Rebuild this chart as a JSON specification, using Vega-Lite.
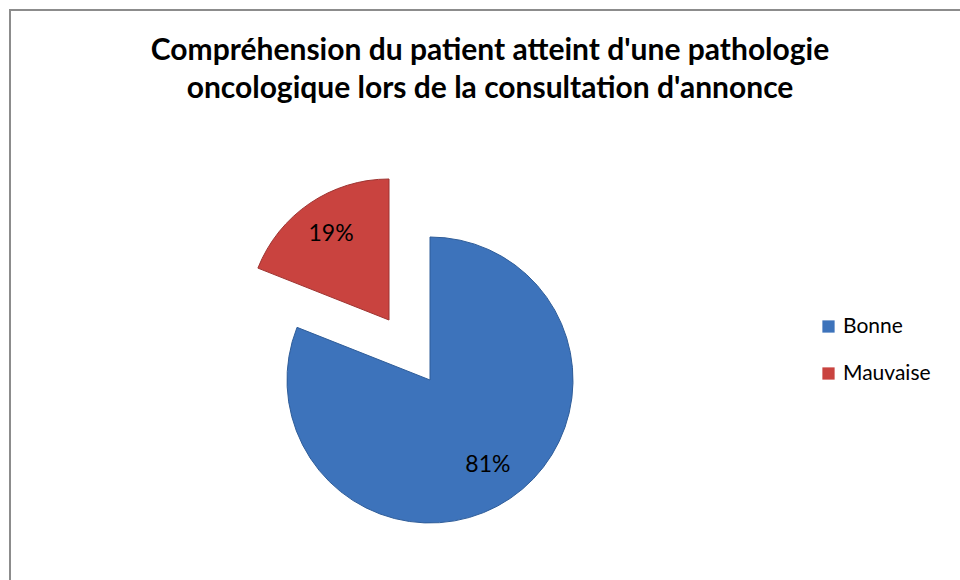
{
  "$schema": "https://vega.github.io/schema/vega-lite/v6.json",
  "width": 960,
  "height": 580,
  "autosize": "none",
  "padding": {"left": 10, "top": 10, "right": 0, "bottom": 0},
  "background": "white",
  "view": {"stroke": "#8c8c8c", "strokeWidth": 2, "fill": "white"},
  "title": {
    "text": ["Compréhension du patient atteint d'une pathologie", "oncologique  lors de la consultation d'annonce"],
    "font": "Lato",
    "fontSize": 30,
    "fontWeight": "bold",
    "color": "#000000",
    "anchor": "middle",
    "frame": "group",
    "baseline": "alphabetic",
    "lineHeight": 38,
    "offset": -118
  },
  "data": {
    "values": [
      {"category": "Bonne", "value": 81, "label": "81%"},
      {"category": "Mauvaise", "value": 19, "label": "19%"}
    ]
  },
  "transform": [
    {"stack": "value", "groupby": [], "sort": [{"field": "category", "order": "ascending"}], "as": ["v0", "v1"]}
  ],
  "layer": [
    {
      "transform": [{"filter": "datum.category == 'Bonne'"}],
      "mark": {"type": "arc", "outerRadius": 143, "xOffset": -60, "yOffset": 80, "stroke": "#2f5d99", "strokeWidth": 1},
      "encoding": {
        "theta": {"field": "v0", "type": "quantitative", "scale": {"domain": [0, 100]}},
        "theta2": {"field": "v1"},
        "color": {
          "field": "category",
          "type": "nominal",
          "scale": {"domain": ["Bonne", "Mauvaise"], "range": ["#3d73bb", "#c9433f"]},
          "legend": {
            "title": null,
            "orient": "none",
            "legendX": 808,
            "legendY": 306,
            "symbolType": "square",
            "symbolSize": 150,
            "symbolStrokeWidth": 0,
            "labelFont": "Lato",
            "labelFontSize": 21,
            "labelColor": "#000000",
            "labelOffset": 4,
            "rowPadding": 25
          }
        }
      }
    },
    {
      "transform": [{"filter": "datum.category == 'Mauvaise'"}],
      "mark": {"type": "arc", "outerRadius": 141, "xOffset": -101, "yOffset": 20, "stroke": "#9e3330", "strokeWidth": 1},
      "encoding": {
        "theta": {"field": "v0", "type": "quantitative", "scale": {"domain": [0, 100]}},
        "theta2": {"field": "v1"},
        "color": {"field": "category", "type": "nominal"}
      }
    },
    {
      "mark": {"type": "text", "xOffset": -60, "yOffset": 80, "font": "Lato", "fontSize": 23, "color": "#000000"},
      "encoding": {
        "theta": {"field": "value", "type": "quantitative", "stack": true},
        "order": {"field": "category", "type": "nominal"},
        "radius": {"field": "value", "type": "quantitative", "scale": {"type": "linear", "domain": [19, 81], "range": [176, 103], "zero": false}},
        "text": {"field": "label"}
      }
    }
  ]
}
